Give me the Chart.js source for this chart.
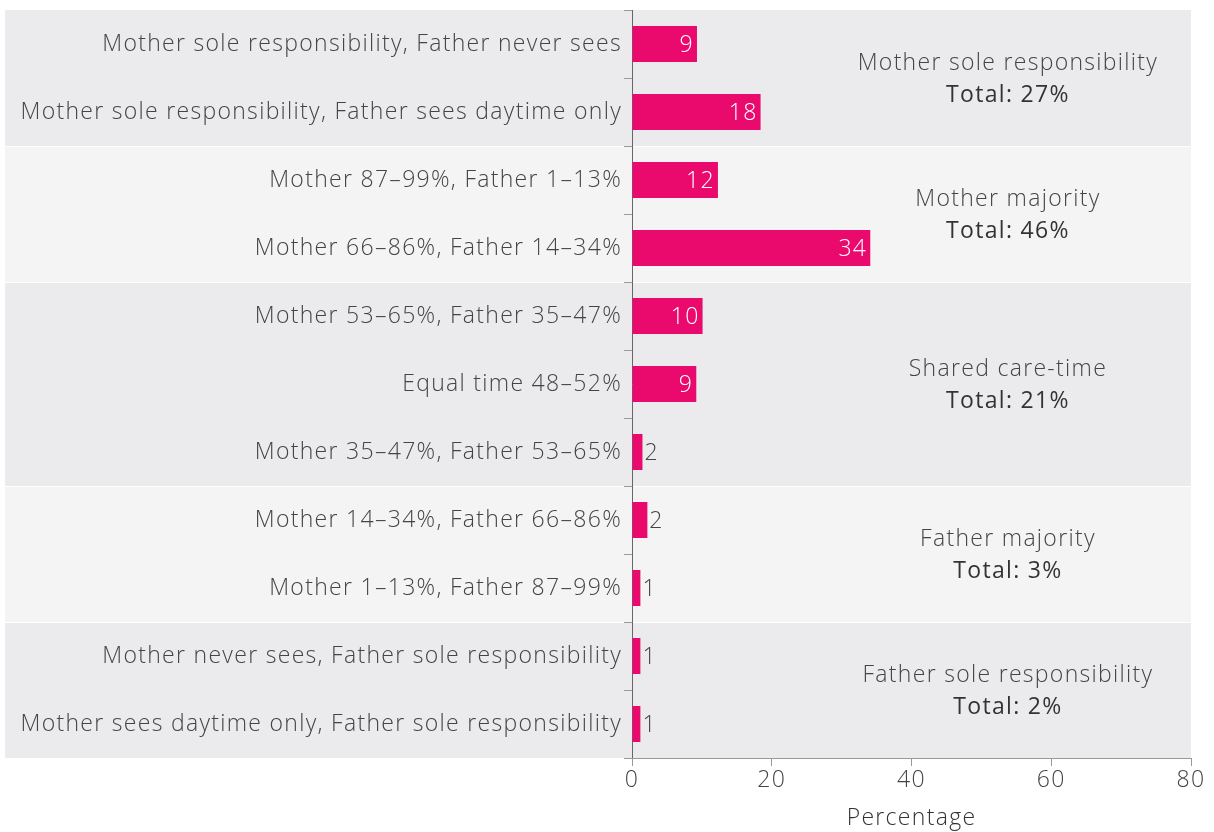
<!DOCTYPE html>
<html>
<head>
<meta charset="utf-8">
<script src="https://cdn.jsdelivr.net/npm/chart.js@4"></script>
<style>
  html, body { margin: 0; padding: 0; background: #fff; }
  #wrap { width: 1214px; height: 832px; }
</style>
</head>
<body>
<div id="wrap"><canvas id="careChart" width="1214" height="832"></canvas></div>
<script>
const categories = [
  "Mother sole responsibility, Father never sees",
  "Mother sole responsibility, Father sees daytime only",
  "Mother 87\u201399%, Father 1\u201313%",
  "Mother 66\u201386%, Father 14\u201334%",
  "Mother 53\u201365%, Father 35\u201347%",
  "Equal time 48\u201352%",
  "Mother 35\u201347%, Father 53\u201365%",
  "Mother 14\u201334%, Father 66\u201386%",
  "Mother 1\u201313%, Father 87\u201399%",
  "Mother never sees, Father sole responsibility",
  "Mother sees daytime only, Father sole responsibility"
];
const percentages = [9.3, 18.4, 12.3, 34.1, 10.1, 9.2, 1.5, 2.2, 1.2, 1.2, 1.2];

const groupNames = [
  "Mother sole responsibility",
  "Mother majority",
  "Shared care-time",
  "Father majority",
  "Father sole responsibility"
];
const groupTotals = [27, 46, 21, 3, 2];
const groupFirstRow = [0, 2, 4, 7, 9];
const groupLastRow = [1, 3, 6, 8, 10];

const xTicks = [0, 20, 40, 60, 80];

const FONT = "'Open Sans', 'Lato', sans-serif";
const BAR_COLOR = "#ea0a6e";
const BAND_COLORS = ["#ebebed", "#f4f4f4"];

// grey bands behind each group, running under the labels too
const bandsPlugin = {
  id: "bands",
  beforeDraw(chart) {
    const { ctx, chartArea, scales: { y } } = chart;
    // the original font is wider, so spread the letters a bit
    ctx.letterSpacing = "1.3px";
    const step = y.getPixelForValue(1) - y.getPixelForValue(0);
    ctx.save();
    groupFirstRow.forEach((first, i) => {
      const top = y.getPixelForValue(first) - step / 2;
      const bottom = y.getPixelForValue(groupLastRow[i]) + step / 2;
      ctx.fillStyle = BAND_COLORS[i % 2];
      ctx.fillRect(5, top + (i === 0 ? 0 : 1), chartArea.right - 5, bottom - top - (i === 0 ? 0 : 1));
    });
    ctx.restore();
  }
};

// value labels on bars and group totals on the right
const labelsPlugin = {
  id: "valueLabels",
  afterDatasetsDraw(chart) {
    const { ctx, scales: { x, y } } = chart;
    const meta = chart.getDatasetMeta(0);
    ctx.save();
    ctx.font = "300 23px " + FONT;
    ctx.textBaseline = "middle";
    meta.data.forEach((bar, i) => {
      const v = percentages[i];
      const txt = String(Math.round(v));
      if (v >= 5) {
        ctx.fillStyle = "#ffffff";
        ctx.textAlign = "right";
        ctx.fillText(txt, bar.x - 3, bar.y + 1);
      } else {
        ctx.fillStyle = "#444444";
        ctx.textAlign = "left";
        ctx.fillText(txt, bar.x + 2, bar.y + 1);
      }
    });

    const step = y.getPixelForValue(1) - y.getPixelForValue(0);
    const cx = x.getPixelForValue(53.8);
    ctx.textAlign = "center";
    groupNames.forEach((name, i) => {
      const top = y.getPixelForValue(groupFirstRow[i]) - step / 2;
      const bottom = y.getPixelForValue(groupLastRow[i]) + step / 2;
      const mid = (top + bottom) / 2;
      ctx.font = "300 23px " + FONT;
      ctx.fillStyle = "#444444";
      ctx.fillText(name, cx, mid - 15);
      ctx.font = "400 23px " + FONT;
      ctx.fillStyle = "#333333";
      ctx.fillText("Total: " + groupTotals[i] + "%", cx, mid + 17);
    });
    ctx.restore();
  }
};

new Chart(document.getElementById("careChart"), {
  type: "bar",
  data: {
    labels: categories,
    datasets: [{
      label: "Percentage",
      data: percentages,
      backgroundColor: BAR_COLOR,
      borderWidth: 0,
      barPercentage: 0.53,
      categoryPercentage: 1
    }]
  },
  options: {
    indexAxis: "y",
    responsive: false,
    animation: false,
    layout: { padding: { top: 10, right: 23, left: 0, bottom: 0 } },
    plugins: {
      legend: { display: false },
      tooltip: { enabled: false }
    },
    scales: {
      y: {
        afterFit(scale) {
          scale.width = 632;
          scale.paddingTop = 0;
          scale.paddingBottom = 0;
        },
        grid: {
          offset: true,
          drawOnChartArea: false,
          drawTicks: true,
          tickLength: 8,
          color: "#999999"
        },
        border: { display: true, color: "#666666", width: 1 },
        ticks: {
          padding: 2,
          color: "#444444",
          font: { family: FONT, size: 23, weight: "300" }
        }
      },
      x: {
        min: 0,
        max: 80,
        afterFit(scale) { scale.height = 74; },
        afterBuildTicks(scale) { scale.ticks = xTicks.map(v => ({ value: v })); },
        grid: {
          drawOnChartArea: false,
          drawTicks: true,
          tickLength: 8,
          color: "#999999"
        },
        border: { display: true, color: "#999999", width: 1 },
        ticks: {
          padding: 1,
          color: "#444444",
          font: { family: FONT, size: 23, weight: "300" }
        },
        title: {
          display: true,
          text: "Percentage",
          color: "#333333",
          padding: { top: 8, bottom: 0 },
          font: { family: FONT, size: 23, weight: "300" }
        }
      }
    }
  },
  plugins: [bandsPlugin, labelsPlugin]
});
</script>
</body>
</html>
